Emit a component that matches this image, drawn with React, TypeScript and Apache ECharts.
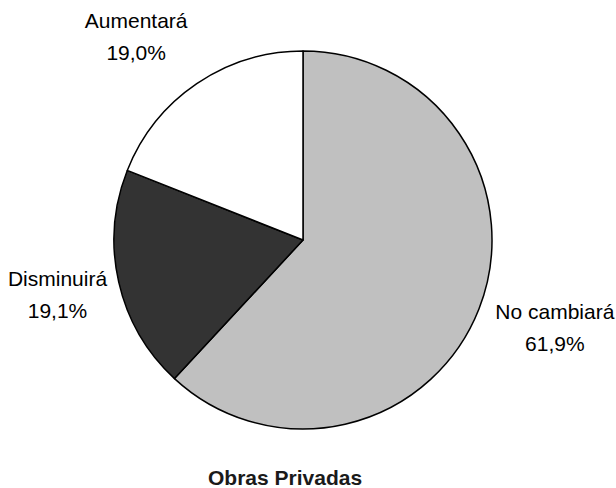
import React, { useEffect, useRef } from "react";
import * as echarts from "echarts";

const categories = ["No cambiará", "Disminuirá", "Aumentará"];
const values = [61.9, 19.1, 19.0];
const sliceColors = ["#c0c0c0", "#333333", "#ffffff"];
const chartTitle = "Obras Privadas";

const FONT = "'Liberation Sans', Arial, Helvetica, sans-serif";
const CENTER: [number, number] = [303, 240];
const labelNudges = [
  { dx: 7, dy: -9 },
  { dx: 11, dy: -4 },
  { dx: -19, dy: 14 },
];

const fmt = (v: number) => v.toFixed(1).replace(".", ",") + "%";

export default function App() {
  const ref = useRef<HTMLDivElement>(null);
  useEffect(() => {
    document.body.style.margin = "0";
    const chart = echarts.init(ref.current!, null, { renderer: "svg" });
    const data = categories.map((name, i) => ({
      name,
      value: values[i],
      itemStyle: { color: sliceColors[i] },
    }));
    chart.setOption({
      animation: false,
      backgroundColor: "#ffffff",
      title: {
        text: chartTitle,
        left: 203,
        top: 462,
        textStyle: {
          fontFamily: FONT,
          fontSize: 21,
          fontWeight: "bold",
          color: "#1a1a1a",
        },
      },
      series: [
        {
          type: "pie",
          center: CENTER,
          radius: [0, 189],
          startAngle: 90,
          clockwise: true,
          silent: true,
          label: { show: false },
          labelLine: { show: false },
          emphasis: { disabled: true },
          itemStyle: { borderColor: "#000000", borderWidth: 1.5 },
          data,
        },
        {
          type: "pie",
          center: CENTER,
          radius: [255, 265],
          startAngle: 90,
          clockwise: true,
          silent: true,
          emphasis: { disabled: true },
          itemStyle: { color: "transparent", borderWidth: 0 },
          labelLine: { show: false },
          label: {
            show: true,
            position: "inside",
            fontFamily: FONT,
            fontSize: 21,
            lineHeight: 32,
            color: "#000000",
            formatter: (p: any) => p.name + "\n" + fmt(p.value),
          },
          labelLayout: (p: any) => labelNudges[p.dataIndex],
          data: categories.map((name, i) => ({ name, value: values[i] })),
        },
      ],
    });
    return () => chart.dispose();
  }, []);
  return (
    <div
      ref={ref}
      style={{ position: "absolute", left: 0, top: 0, width: 616, height: 488 }}
    />
  );
}
